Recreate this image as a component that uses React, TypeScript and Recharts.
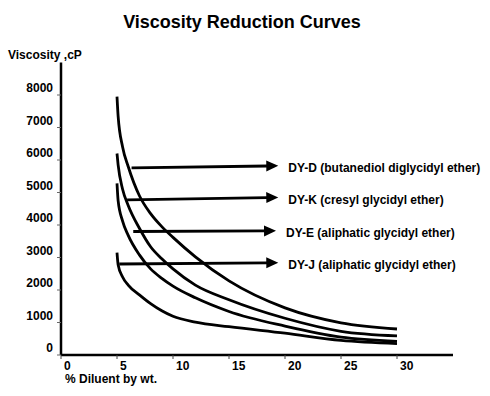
import React from 'react';
import { LineChart, Line, XAxis, YAxis, ReferenceLine } from 'recharts';

// % diluent by weight (x) shared by the four curves
const diluentPct = [5, 5.1, 5.5, 6, 7, 8, 9, 10, 12, 15, 20, 25, 30];

// viscosity (cP)
const dyD = [7950, 7350, 6400, 5800, 4900, 4350, 3950, 3620, 3020, 2280, 1450, 990, 800];
const dyK = [6200, 5850, 5100, 4600, 3900, 3330, 2960, 2650, 2150, 1700, 1130, 730, 590];
const dyE = [5280, 4750, 4120, 3680, 3080, 2650, 2360, 2120, 1760, 1340, 890, 550, 420];
const dyJ = [3150, 2780, 2400, 2150, 1850, 1580, 1360, 1190, 1010, 870, 670, 450, 350];

const seriesNames = ['DY-D', 'DY-K', 'DY-E', 'DY-J'];
const seriesLabels = [
  'DY-D (butanediol diglycidyl ether)',
  'DY-K (cresyl glycidyl ether)',
  'DY-E (aliphatic glycidyl ether)',
  'DY-J (aliphatic glycidyl ether)',
];

// arrows pointing from each curve to its label (data coords)
const arrowFromX = [6.3, 5.9, 6.45, 5.2];
const arrowFromY = [5760, 4770, 3800, 2800];
const arrowToX = [19.4, 19.4, 19.2, 19.4];
const arrowToY = [5820, 4850, 3820, 2840];

const xTicks = [0, 5, 10, 15, 20, 25, 30];
const yTicks = [0, 1000, 2000, 3000, 4000, 5000, 6000, 7000, 8000];

const toPoints = (ys: number[]) => ys.map((v, i) => ({ pct: diluentPct[i], cp: v }));
const curves = [dyD, dyK, dyE, dyJ].map(toPoints);

const FONT = '"Liberation Sans", Arial, sans-serif';

const XTick = (props: any) => {
  const { x, y, payload } = props;
  return (
    <text x={x + 3} y={y + 9} textAnchor="start" fontSize={12} fontWeight="bold" fill="#000" fontFamily={FONT}>
      {payload.value}
    </text>
  );
};

const YTick = (props: any) => {
  const { x, y, payload } = props;
  return (
    <text x={x} y={y - 3} textAnchor="end" fontSize={12} fontWeight="bold" fill="#000" fontFamily={FONT}>
      {payload.value}
    </text>
  );
};

const arrowShape = (label: string) => (p: any) => {
  const { x1, y1, x2, y2 } = p;
  const ang = Math.atan2(y2 - y1, x2 - x1);
  const len = 12;
  const half = 5.5;
  const bx = x2 - len * Math.cos(ang);
  const by = y2 - len * Math.sin(ang);
  const nx = -Math.sin(ang) * half;
  const ny = Math.cos(ang) * half;
  return (
    <g>
      <line x1={x1} y1={y1} x2={bx + 1} y2={by} stroke="#000" strokeWidth={2.8} />
      <polygon points={`${x2},${y2} ${bx + nx},${by + ny} ${bx - nx},${by - ny}`} fill="#000" />
      <text x={x2 + 10} y={y2 + 2.5} dominantBaseline="central" fontSize={12} fontWeight="bold" fill="#000" fontFamily={FONT}>
        {label}
      </text>
    </g>
  );
};

export default function App() {
  return (
    <div style={{ position: 'absolute', left: 0, top: 0, width: 490, height: 396, background: '#fff', fontFamily: FONT }}>
      <div
        style={{
          position: 'absolute',
          top: 12.5,
          left: 0,
          width: 484,
          textAlign: 'center',
          fontSize: 18,
          lineHeight: '18px',
          fontWeight: 'bold',
          color: '#000',
        }}
      >
        Viscosity Reduction Curves
      </div>
      <div style={{ position: 'absolute', top: 49, left: 8, fontSize: 12, lineHeight: '12px', fontWeight: 'bold' }}>
        Viscosity ,cP
      </div>
      <div style={{ position: 'absolute', top: 373, left: 65, fontSize: 12, lineHeight: '12px', fontWeight: 'bold' }}>
        % Diluent by wt.
      </div>
      <div style={{ position: 'absolute', left: 0, top: 0 }}>
        <LineChart width={490} height={396} margin={{ top: 62.5, right: 37, bottom: 11, left: 11 }}>
          <XAxis
            type="number"
            dataKey="pct"
            domain={[0, 35]}
            ticks={xTicks}
            height={30}
            axisLine={{ stroke: '#000', strokeWidth: 2.5 }}
            tickLine={{ stroke: '#444' }}
            tickSize={4}
            tick={<XTick />}
            allowDataOverflow
          />
          <YAxis
            type="number"
            dataKey="cp"
            domain={[0, 9000]}
            ticks={yTicks}
            width={50}
            axisLine={{ stroke: '#000', strokeWidth: 2.5 }}
            tickLine={{ stroke: '#666' }}
            tickSize={4}
            tickMargin={4}
            tick={<YTick />}
            allowDataOverflow
          />
          {curves.map((pts, i) => (
            <Line
              key={seriesNames[i]}
              data={pts}
              dataKey="cp"
              name={seriesNames[i]}
              type="monotone"
              stroke="#000"
              strokeWidth={2.8}
              dot={false}
              activeDot={false}
              isAnimationActive={false}
            />
          ))}
          {seriesLabels.map((lab, i) => (
            <ReferenceLine
              key={lab}
              segment={[
                { x: arrowFromX[i], y: arrowFromY[i] },
                { x: arrowToX[i], y: arrowToY[i] },
              ]}
              ifOverflow="visible"
              shape={arrowShape(lab)}
            />
          ))}
        </LineChart>
      </div>
    </div>
  );
}
